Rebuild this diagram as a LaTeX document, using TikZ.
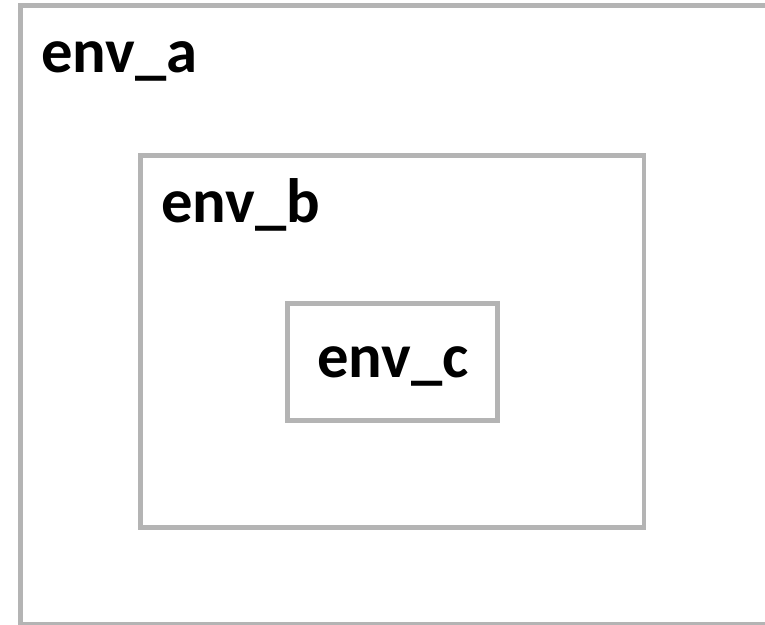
\documentclass[tikz,border=0pt]{standalone}
\usepackage{fontspec}
\setmainfont{Carlito}
\usepackage{tikz}
\usetikzlibrary{positioning}

\definecolor{boxgray}{RGB}{180,180,180}

\begin{document}
\begin{tikzpicture}[x=0.75pt,y=-0.75pt]
  \tikzstyle{envbox}=[draw=boxgray,line width=3.6pt,inner sep=0pt,outer sep=0pt,anchor=north west]
  \tikzstyle{envlabel}=[anchor=base west,inner sep=0pt,font=\fontsize{47}{52}\selectfont\bfseries]
  \useasboundingbox (0,0) rectangle (765,625);
  \clip (0,0) rectangle (765,625);
  % nested environments, outermost first
  \node[envbox,minimum width=785*0.75pt,minimum height=618.5*0.75pt] (envA) at (20.5,5.5) {};
  \node[envbox,minimum width=503.5*0.75pt,minimum height=372*0.75pt] (envB) at (140.5,155.5) {};
  \node[envbox,minimum width=210*0.75pt,minimum height=117*0.75pt] (envC) at (287.5,303.5) {};
  % names
  \node[envlabel] (labA) at (41,72) {env\_a};
  \node[envlabel] (labB) at (161,222) {env\_b};
  \node[envlabel] (labC) at (317,377) {env\_c};
\end{tikzpicture}
\end{document}
